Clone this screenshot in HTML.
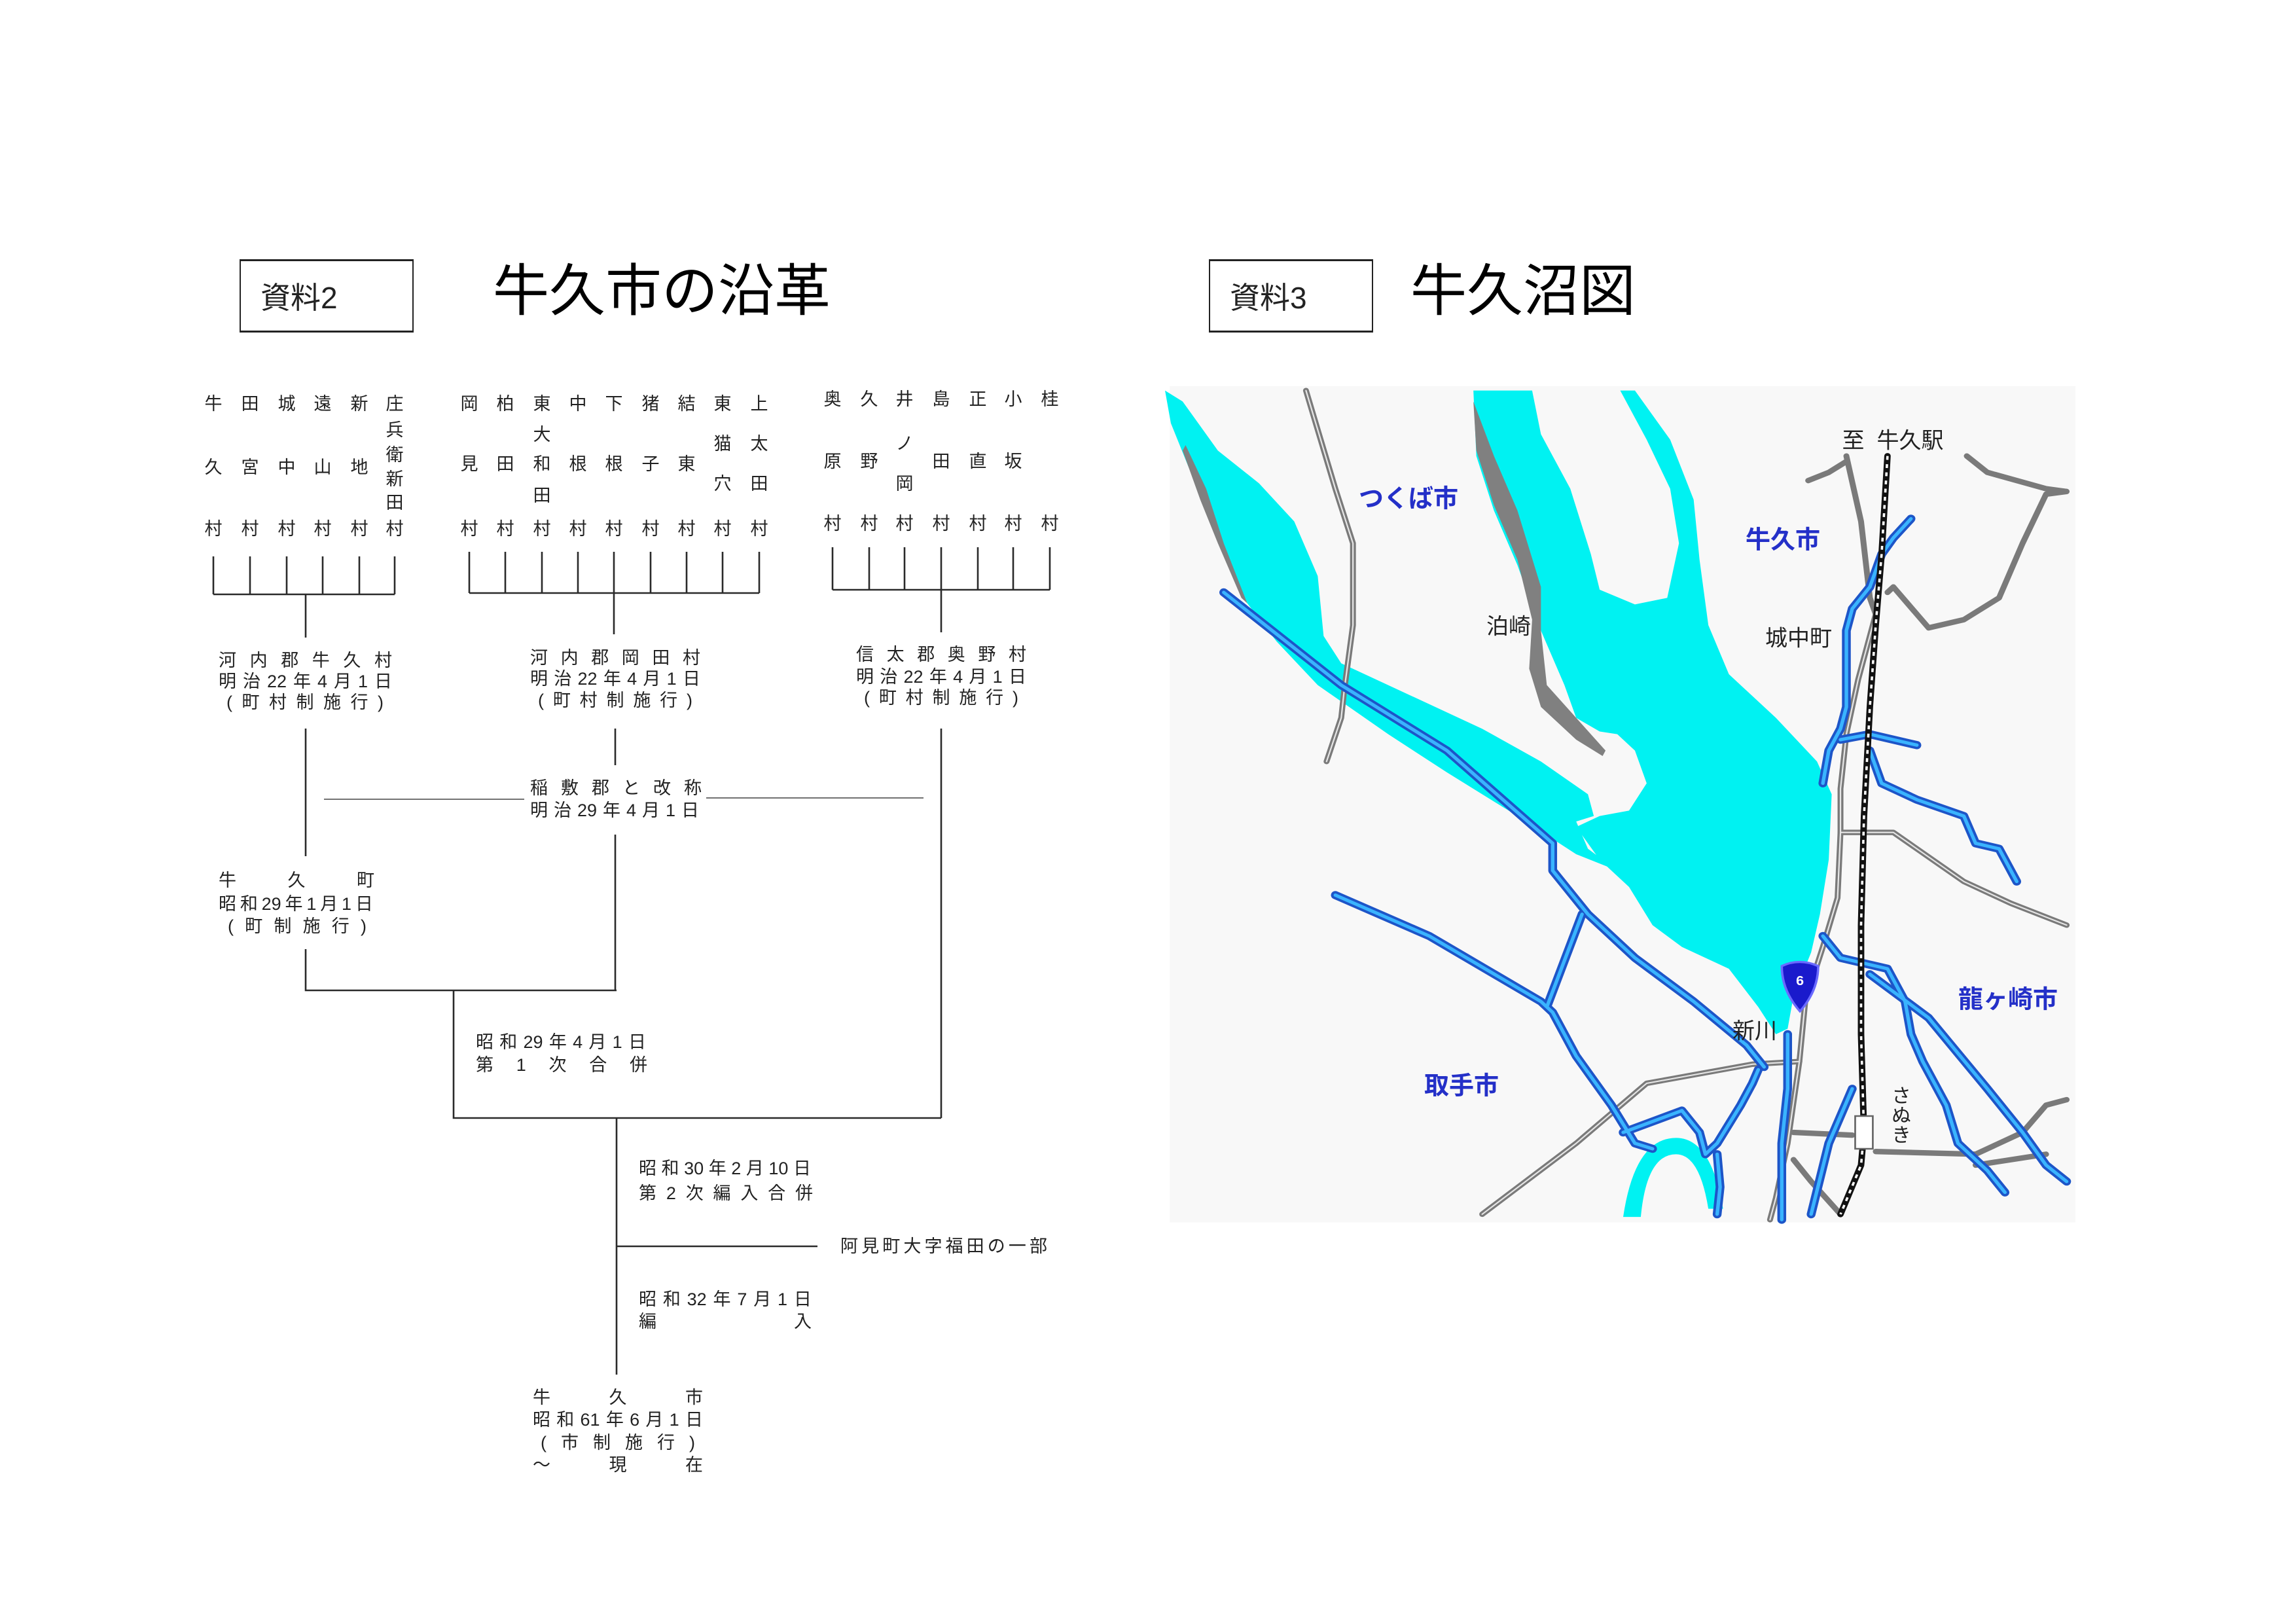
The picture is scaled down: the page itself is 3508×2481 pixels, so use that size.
<!DOCTYPE html>
<html><head><meta charset="utf-8">
<style>
html,body{margin:0;padding:0;background:#fff}
body{width:3508px;height:2481px;position:relative;overflow:hidden;font-family:"Liberation Sans","Noto Sans CJK JP",sans-serif;color:#222}
.c{position:absolute;width:44px;margin-left:-22px;text-align:center;font-size:27px;line-height:28px;margin-top:-14px}
.l{position:absolute;display:flex;justify-content:space-between;font-size:27px;line-height:28px;margin-top:-14px;white-space:nowrap}
.box{position:absolute;border:2px solid #222;border-top-width:3px;border-bottom-width:3px;box-sizing:border-box;font-size:46px;display:flex;align-items:center;padding-left:30px}
.t{position:absolute;font-size:86px;line-height:90px;color:#000}
.m{position:absolute;transform:translate(-50%,-50%);white-space:nowrap;font-size:34px}
.b{color:#2430c8;font-weight:bold;font-size:38px}
</style></head><body>

<div class="box" style="left:366px;top:396px;width:266px;height:112px">資料2</div>
<div class="t" style="left:753px;top:400px">牛久市の沿革</div>
<div class="box" style="left:1847px;top:396px;width:251px;height:112px">資料3</div>
<div class="t" style="left:2155px;top:400px">牛久沼図</div>

<div class="c" style="left:326px;top:617px">牛</div><div class="c" style="left:326px;top:714px">久</div>
<div class="c" style="left:382px;top:617px">田</div><div class="c" style="left:382px;top:714px">宮</div>
<div class="c" style="left:438px;top:617px">城</div><div class="c" style="left:438px;top:714px">中</div>
<div class="c" style="left:493px;top:617px">遠</div><div class="c" style="left:493px;top:714px">山</div>
<div class="c" style="left:549px;top:617px">新</div><div class="c" style="left:549px;top:714px">地</div>
<div class="c" style="left:603px;top:617px">庄</div><div class="c" style="left:603px;top:657px">兵</div><div class="c" style="left:603px;top:695px">衛</div><div class="c" style="left:603px;top:732px">新</div><div class="c" style="left:603px;top:768px">田</div>
<div class="c" style="left:326px;top:808px">村</div><div class="c" style="left:382px;top:808px">村</div><div class="c" style="left:438px;top:808px">村</div><div class="c" style="left:493px;top:808px">村</div><div class="c" style="left:549px;top:808px">村</div><div class="c" style="left:603px;top:808px">村</div>

<div class="c" style="left:717px;top:617px">岡</div><div class="c" style="left:717px;top:709px">見</div>
<div class="c" style="left:772px;top:617px">柏</div><div class="c" style="left:772px;top:709px">田</div>
<div class="c" style="left:828px;top:617px">東</div><div class="c" style="left:828px;top:664px">大</div><div class="c" style="left:828px;top:709px">和</div><div class="c" style="left:828px;top:757px">田</div>
<div class="c" style="left:883px;top:617px">中</div><div class="c" style="left:883px;top:709px">根</div>
<div class="c" style="left:938px;top:617px">下</div><div class="c" style="left:938px;top:709px">根</div>
<div class="c" style="left:994px;top:617px">猪</div><div class="c" style="left:994px;top:709px">子</div>
<div class="c" style="left:1049px;top:617px">結</div><div class="c" style="left:1049px;top:709px">東</div>
<div class="c" style="left:1104px;top:617px">東</div><div class="c" style="left:1104px;top:678px">猫</div><div class="c" style="left:1104px;top:739px">穴</div>
<div class="c" style="left:1160px;top:617px">上</div><div class="c" style="left:1160px;top:678px">太</div><div class="c" style="left:1160px;top:739px">田</div>
<div class="c" style="left:717px;top:808px">村</div><div class="c" style="left:772px;top:808px">村</div><div class="c" style="left:828px;top:808px">村</div><div class="c" style="left:883px;top:808px">村</div><div class="c" style="left:938px;top:808px">村</div><div class="c" style="left:994px;top:808px">村</div><div class="c" style="left:1049px;top:808px">村</div><div class="c" style="left:1104px;top:808px">村</div><div class="c" style="left:1160px;top:808px">村</div>

<div class="c" style="left:1272px;top:610px">奥</div><div class="c" style="left:1272px;top:705px">原</div>
<div class="c" style="left:1328px;top:610px">久</div><div class="c" style="left:1328px;top:705px">野</div>
<div class="c" style="left:1382px;top:610px">井</div><div class="c" style="left:1382px;top:678px">ノ</div><div class="c" style="left:1382px;top:739px">岡</div>
<div class="c" style="left:1438px;top:610px">島</div><div class="c" style="left:1438px;top:705px">田</div>
<div class="c" style="left:1494px;top:610px">正</div><div class="c" style="left:1494px;top:705px">直</div>
<div class="c" style="left:1548px;top:610px">小</div><div class="c" style="left:1548px;top:705px">坂</div>
<div class="c" style="left:1604px;top:610px">桂</div>
<div class="c" style="left:1272px;top:800px">村</div><div class="c" style="left:1328px;top:800px">村</div><div class="c" style="left:1382px;top:800px">村</div><div class="c" style="left:1438px;top:800px">村</div><div class="c" style="left:1494px;top:800px">村</div><div class="c" style="left:1548px;top:800px">村</div><div class="c" style="left:1604px;top:800px">村</div>

<div class="l" style="left:334px;top:1009px;width:265px"><span>河</span><span>内</span><span>郡</span><span>牛</span><span>久</span><span>村</span></div>
<div class="l" style="left:334px;top:1041px;width:265px"><span>明</span><span>治</span><span>22</span><span>年</span><span>4</span><span>月</span><span>1</span><span>日</span></div>
<div class="l" style="left:346px;top:1073px;width:240px"><span>(</span><span>町</span><span>村</span><span>制</span><span>施</span><span>行</span><span>)</span></div>

<div class="l" style="left:810px;top:1005px;width:260px"><span>河</span><span>内</span><span>郡</span><span>岡</span><span>田</span><span>村</span></div>
<div class="l" style="left:810px;top:1037px;width:260px"><span>明</span><span>治</span><span>22</span><span>年</span><span>4</span><span>月</span><span>1</span><span>日</span></div>
<div class="l" style="left:822px;top:1070px;width:236px"><span>(</span><span>町</span><span>村</span><span>制</span><span>施</span><span>行</span><span>)</span></div>

<div class="l" style="left:1308px;top:1000px;width:260px"><span>信</span><span>太</span><span>郡</span><span>奥</span><span>野</span><span>村</span></div>
<div class="l" style="left:1308px;top:1034px;width:260px"><span>明</span><span>治</span><span>22</span><span>年</span><span>4</span><span>月</span><span>1</span><span>日</span></div>
<div class="l" style="left:1320px;top:1066px;width:236px"><span>(</span><span>町</span><span>村</span><span>制</span><span>施</span><span>行</span><span>)</span></div>

<div class="l" style="left:810px;top:1204px;width:262px"><span>稲</span><span>敷</span><span>郡</span><span>と</span><span>改</span><span>称</span></div>
<div class="l" style="left:810px;top:1238px;width:258px"><span>明</span><span>治</span><span>29</span><span>年</span><span>4</span><span>月</span><span>1</span><span>日</span></div>

<div class="l" style="left:334px;top:1345px;width:238px"><span>牛</span><span>久</span><span>町</span></div>
<div class="l" style="left:334px;top:1381px;width:236px"><span>昭</span><span>和</span><span>29</span><span>年</span><span>1</span><span>月</span><span>1</span><span>日</span></div>
<div class="l" style="left:348px;top:1415px;width:212px"><span>(</span><span>町</span><span>制</span><span>施</span><span>行</span><span>)</span></div>

<div class="l" style="left:727px;top:1592px;width:260px"><span>昭</span><span>和</span><span>29</span><span>年</span><span>4</span><span>月</span><span>1</span><span>日</span></div>
<div class="l" style="left:727px;top:1627px;width:262px"><span>第</span><span>1</span><span>次</span><span>合</span><span>併</span></div>

<div class="l" style="left:976px;top:1785px;width:263px"><span>昭</span><span>和</span><span>30</span><span>年</span><span>2</span><span>月</span><span>10</span><span>日</span></div>
<div class="l" style="left:976px;top:1823px;width:266px"><span>第</span><span>2</span><span>次</span><span>編</span><span>入</span><span>合</span><span>併</span></div>
<div class="l" style="left:1284px;top:1904px;width:316px"><span>阿</span><span>見</span><span>町</span><span>大</span><span>字</span><span>福</span><span>田</span><span>の</span><span>一</span><span>部</span></div>
<div class="l" style="left:976px;top:1985px;width:264px"><span>昭</span><span>和</span><span>32</span><span>年</span><span>7</span><span>月</span><span>1</span><span>日</span></div>
<div class="l" style="left:976px;top:2019px;width:264px"><span>編</span><span>入</span></div>

<div class="l" style="left:814px;top:2135px;width:260px"><span>牛</span><span>久</span><span>市</span></div>
<div class="l" style="left:814px;top:2169px;width:260px"><span>昭</span><span>和</span><span>61</span><span>年</span><span>6</span><span>月</span><span>1</span><span>日</span></div>
<div class="l" style="left:826px;top:2204px;width:236px"><span>(</span><span>市</span><span>制</span><span>施</span><span>行</span><span>)</span></div>
<div class="l" style="left:814px;top:2238px;width:260px"><span>～</span><span>現</span><span>在</span></div>

<svg style="position:absolute;left:0;top:0" width="3508" height="2481">
<g stroke="#2a2a2a" stroke-width="2.6" fill="none">
<path d="M326 850V908M382 850V908M438 850V908M493 850V908M549 850V908M603 850V908M326 908H603M467 908V974"/>
<path d="M717 843V906M772 843V906M828 843V906M883 843V906M938 843V906M994 843V906M1049 843V906M1104 843V906M1160 843V906M717 906H1160M938 906V969"/>
<path d="M1272 836V901M1328 836V901M1382 836V901M1438 836V901M1494 836V901M1548 836V901M1604 836V901M1272 901H1604M1438 901V966"/>
<path d="M467 1113V1308M940 1113V1169M940 1275V1512M1438 1113V1708"/>
<path d="M467 1450V1513H942M693 1513V1708H1438M942 1708V2100M942 1904H1249"/>
</g>
<path d="M495 1221H801M1079 1219H1411" stroke="#444" stroke-width="1.6"/>
</svg>

<svg style="position:absolute;left:1780px;top:580px" width="1400" height="1300" viewBox="0 0 1560 1560" preserveAspectRatio="none">
<rect x="8" y="12" width="1542" height="1533" fill="#f8f8f8"/>
<g fill="#00f2f2">
<path d="M0 20L30 40L90 130L160 190L220 260L260 360L270 470L300 520L420 580L540 640L640 700L720 760L730 800L700 810L720 860L770 900L700 870L600 800L480 720L380 650L260 560L190 480L140 410L110 340L80 250L40 160L10 80Z"/>
<path d="M525 20L625 20L640 100L690 200L725 320L740 385L800 412L855 400L875 300L860 200L820 110L775 20L800 20L860 110L900 220L910 330L925 450L960 540L1040 620L1110 700L1135 760L1130 880L1115 980L1100 1050L1070 1130L1060 1190L1040 1200L1010 1150L960 1080L880 1040L830 1000L790 930L740 880L700 820L740 800L790 790L820 740L800 680L770 650L740 645L700 620L680 560L640 460L600 340L560 240L530 140Z"/>
<path d="M780 1535Q800 1390 870 1390Q930 1390 950 1520L925 1520Q910 1420 870 1420Q820 1420 810 1535Z"/>
</g>
<g fill="#808080">
<path d="M525 40L560 140L600 240L640 380L640 460L650 560L700 620L750 680L745 690L700 660L640 600L620 530L625 440L600 330L560 230L530 130Z"/>
<path d="M35 120L70 200L100 300L140 410L130 400L90 300L60 220L30 130Z"/>
</g>
<g fill="none" stroke-linejoin="round" stroke-linecap="round">
<g stroke="#7a7a7a" stroke-width="10">
<path d="M240 20L290 200L320 300L320 450L305 570L300 620L275 700"/>
<path d="M1095 185L1130 170L1160 150M1160 140L1185 260L1200 400L1210 430"/>
<path d="M1230 390L1240 380L1300 455L1360 440L1420 400L1460 300L1500 210L1535 205M1365 140L1400 170L1500 200L1535 205"/>
<path d="M1210 430L1180 550L1160 650L1150 750L1150 830L1145 950L1120 1040L1090 1140L1080 1250L1060 1400L1040 1500L1030 1540"/>
<path d="M1150 830L1240 830L1280 860L1360 920L1440 960L1535 1000"/>
<path d="M540 1530L700 1400L820 1290L1000 1255L1080 1250"/>
<path d="M1070 1380L1170 1385M1210 1415L1380 1420L1460 1380L1500 1330L1535 1320M1380 1440L1500 1420M1070 1430L1100 1470L1150 1530"/>
</g>
<g stroke="#e6e6e6" stroke-width="2.5">
<path d="M240 20L290 200L320 300L320 450L305 570L300 620L275 700"/>
<path d="M1210 430L1180 550L1160 650L1150 750L1150 830L1145 950L1120 1040L1090 1140L1080 1250L1060 1400L1040 1500L1030 1540"/>
<path d="M1150 830L1240 830L1280 860L1360 920L1440 960L1535 1000"/>
<path d="M540 1530L700 1400L820 1290L1000 1255L1080 1250"/>
</g>
<g stroke="#1d55c8" stroke-width="15">
<path d="M100 390L300 560L480 680L660 850L660 900L720 980L800 1060L900 1140L990 1220L1020 1260"/>
<path d="M290 945L450 1020L640 1140L660 1160L700 1240L760 1330L800 1400L830 1410M650 1150L710 980"/>
<path d="M780 1380L880 1340L910 1380L920 1420L940 1400L980 1330L1000 1290L1010 1265M940 1420L945 1480L940 1530"/>
<path d="M1270 255L1240 290L1220 320L1200 380L1170 420L1160 460L1160 600L1150 640L1130 680L1120 740"/>
<path d="M1150 660L1200 650L1280 670M1200 680L1220 740L1280 770L1360 800L1380 850L1420 860L1450 920"/>
<path d="M1120 1020L1150 1060L1190 1070L1230 1080L1260 1140L1270 1200L1290 1250L1330 1330L1350 1400L1400 1450L1430 1490"/>
<path d="M1200 1090L1300 1170L1400 1300L1460 1380L1500 1440L1535 1470"/>
<path d="M1060 1200L1060 1300L1050 1400L1050 1540M1100 1530L1130 1400L1170 1300"/>
</g>
<g stroke="#3ab4ff" stroke-width="6">
<path d="M100 390L300 560L480 680L660 850L660 900L720 980L800 1060L900 1140L990 1220L1020 1260"/>
<path d="M290 945L450 1020L640 1140L660 1160L700 1240L760 1330L800 1400L830 1410M650 1150L710 980"/>
<path d="M780 1380L880 1340L910 1380L920 1420L940 1400L980 1330L1000 1290L1010 1265M940 1420L945 1480L940 1530"/>
<path d="M1270 255L1240 290L1220 320L1200 380L1170 420L1160 460L1160 600L1150 640L1130 680L1120 740"/>
<path d="M1150 660L1200 650L1280 670M1200 680L1220 740L1280 770L1360 800L1380 850L1420 860L1450 920"/>
<path d="M1120 1020L1150 1060L1190 1070L1230 1080L1260 1140L1270 1200L1290 1250L1330 1330L1350 1400L1400 1450L1430 1490"/>
<path d="M1200 1090L1300 1170L1400 1300L1460 1380L1500 1440L1535 1470"/>
<path d="M1060 1200L1060 1300L1050 1400L1050 1540M1100 1530L1130 1400L1170 1300"/>
</g>
<path d="M1230 140L1220 320L1210 450L1200 600L1190 800L1185 1000L1185 1200L1190 1380L1185 1440L1150 1530" stroke="#111" stroke-width="11"/>
<path d="M1230 140L1220 320L1210 450L1200 600L1190 800L1185 1000L1185 1200L1190 1380L1185 1440L1150 1530" stroke="#fff" stroke-width="4" stroke-dasharray="7 8" stroke-linecap="butt"/>
</g>
<rect x="1175" y="1350" width="30" height="60" fill="#fff" stroke="#666" stroke-width="3"/>
<path d="M1050 1075Q1080 1060 1112 1075Q1112 1120 1081 1158Q1050 1120 1050 1075Z" fill="#1a1acc" stroke="#6a6aff" stroke-width="4"/>
<text x="1081" y="1110" font-size="24" fill="#fff" text-anchor="middle" font-family="Liberation Sans,sans-serif" font-weight="bold">6</text>
</svg>

<div class="m b" style="left:2152px;top:758px">つくば市</div>
<div class="m b" style="left:2724px;top:821px">牛久市</div>
<div class="m" style="left:2305px;top:954px">泊崎</div>
<div class="m" style="left:2748px;top:972px">城中町</div>
<div class="m" style="left:2892px;top:670px">至&nbsp;&nbsp;牛久駅</div>
<div class="m b" style="left:3068px;top:1523px">龍ヶ崎市</div>
<div class="m" style="left:2681px;top:1572px">新川</div>
<div class="m b" style="left:2233px;top:1655px">取手市</div>
<div class="m" style="left:2901px;top:1703px;writing-mode:vertical-rl;font-size:30px">さぬき</div>

</body></html>
